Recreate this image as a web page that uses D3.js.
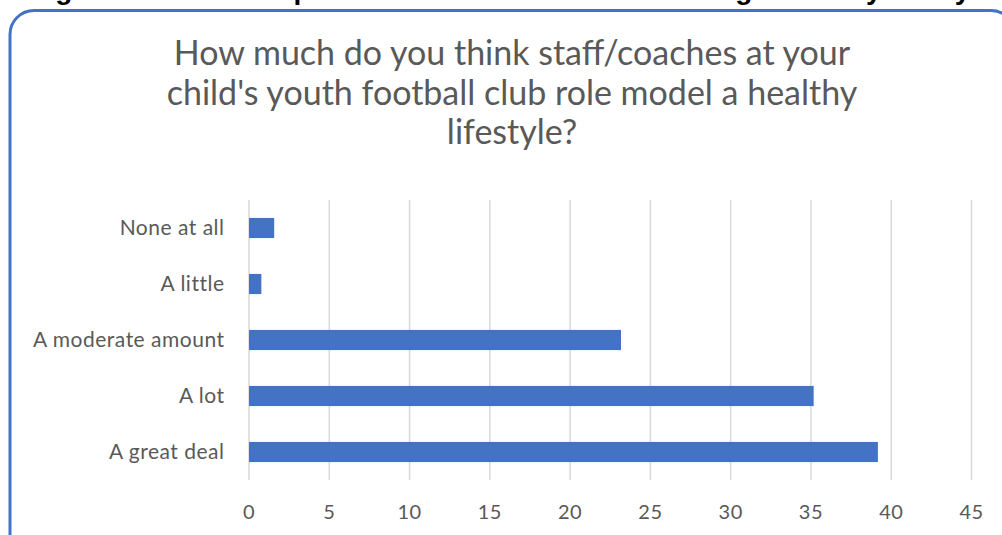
<!DOCTYPE html>
<html lang="en">
<head>
  <meta charset="UTF-8">
  <title>Staff role model chart</title>
  <script src="https://cdnjs.cloudflare.com/ajax/libs/d3/7.8.5/d3.min.js"></script>
  <style>
    body {
      margin: 0;
      background: white;
    }
    svg {
      display: block;
    }
    svg text {
      font-family: Lato, "Open Sans", sans-serif;
    }
  </style>
</head>
<body>
  <script>
    var categories = ["None at all", "A little", "A moderate amount", "A lot", "A great deal"];
    var values = [1.6, 0.8, 23.2, 35.2, 39.2];
    var tickValues = [0, 5, 10, 15, 20, 25, 30, 35, 40, 45];
    var titleLines = [
      "How much do you think staff/coaches at your",
      "child's youth football club role model a healthy",
      "lifestyle?"
    ];

    var w = 1002;
    var h = 535;
    var margin = {left: 248.5, right: 31, top: 200, bottom: 55};

    var svg = d3.select("body").append("svg")
      .attr("width", w)
      .attr("height", h);

    // heading of the page above, mostly cut off
    svg.append("text")
      .attr("x", 512)
      .attr("y", -1)
      .attr("text-anchor", "middle")
      .style("font-family", "'Liberation Sans', sans-serif")
      .style("font-weight", "bold")
      .style("font-size", "28px")
      .attr("fill", "black")
      .text("Figure 9: Parent responses on coaches role modelling a healthy lifestyle");

    svg.append("rect")
      .attr("x", 10)
      .attr("y", 10.5)
      .attr("width", 1005)
      .attr("height", 600)
      .attr("rx", 24)
      .attr("fill", "white")
      .attr("stroke", "#4472c4")
      .attr("stroke-width", 3);

    var xScale = d3.scaleLinear()
      .domain([0, 45])
      .range([margin.left, w - margin.right]);

    var yScale = d3.scaleBand()
      .domain(categories)
      .range([margin.top, h - margin.bottom])
      .paddingInner(0.64)
      .paddingOuter(0.32);

    // title
    svg.append("g")
      .selectAll("text")
      .data(titleLines)
      .enter()
      .append("text")
      .attr("x", 512)
      .attr("y", function(d, i) {
        return 65 + i * 39.5;
      })
      .attr("text-anchor", "middle")
      .attr("fill", "#595959")
      .style("font-size", "34px")
      .text(function(d) {
        return d;
      });

    // gridlines
    var xAxis = d3.axisBottom()
      .scale(xScale)
      .tickValues(tickValues)
      .tickSize(-(h - margin.top - margin.bottom))
      .tickPadding(25);

    var gx = svg.append("g")
      .attr("transform", "translate(0, " + (h - margin.bottom) + ")")
      .call(xAxis);
    gx.attr("font-family", null);
    gx.select(".domain").remove();
    gx.selectAll("line")
      .attr("stroke", "#d9d9d9")
      .attr("stroke-width", 1.5);
    gx.selectAll("text")
      .attr("fill", "#595959")
      .style("font-size", "20px")
      .style("letter-spacing", "0.5px");

    svg.selectAll("rect.bar")
      .data(values)
      .enter()
      .append("rect")
      .attr("class", "bar")
      .attr("x", xScale(0) + 0.5)
      .attr("y", function(d, i) {
        return yScale(categories[i]);
      })
      .attr("width", function(d) {
        return xScale(d) - xScale(0) - 0.5;
      })
      .attr("height", yScale.bandwidth())
      .attr("fill", "#4472c4");

    var yAxis = d3.axisLeft()
      .scale(yScale)
      .tickSize(0)
      .tickPadding(24);

    var gy = svg.append("g")
      .attr("transform", "translate(" + margin.left + ", 0)")
      .call(yAxis);
    gy.attr("font-family", null);
    gy.select(".domain").remove();
    gy.selectAll("text")
      .attr("fill", "#595959")
      .style("font-size", "21px")
      .style("letter-spacing", "0.5px");
  </script>
</body>
</html>
